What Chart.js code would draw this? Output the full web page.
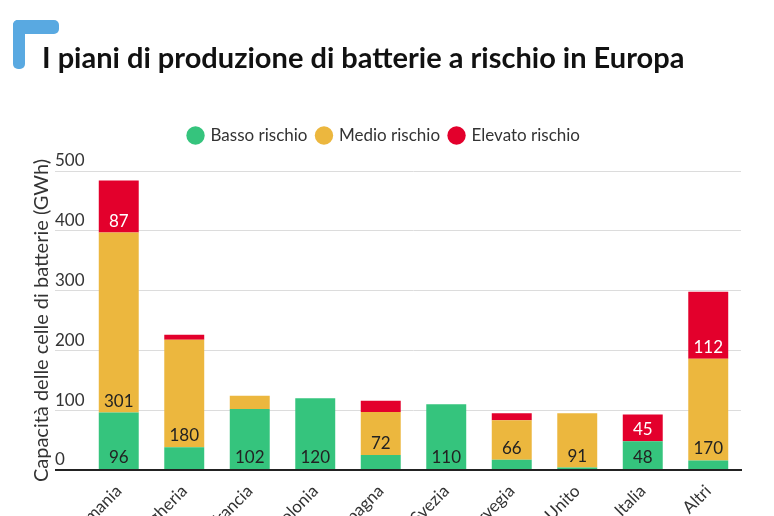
<!DOCTYPE html>
<html>
<head>
<meta charset="utf-8">
<script src="https://cdn.jsdelivr.net/npm/chart.js@4.4.1/dist/chart.umd.min.js"></script>
<style>
  html, body { margin: 0; padding: 0; background: #fff; overflow: hidden; }
  #wrap { width: 774px; height: 600px; position: relative; }
</style>
</head>
<body>
<div id="wrap"><canvas id="batterie"></canvas></div>
<script>
var categories = ["Germania", "Ungheria", "Francia", "Polonia", "Spagna", "Svezia", "Norvegia", "Regno Unito", "Italia", "Altri"];
var bassoRischio = [96, 38, 102, 120, 25, 110, 17, 4, 48, 16];
var medioRischio = [301, 180, 22, 0, 72, 0, 66, 91, 0, 170];
var elevatoRischio = [87, 8, 0, 0, 19, 0, 12, 0, 45, 112];
var seriesNames = ["Basso rischio", "Medio rischio", "Elevato rischio"];
var seriesColors = ["#35c47d", "#ecb73e", "#e3002c"];
var yTicks = [0, 100, 200, 300, 400, 500];

var titleText = "I piani di produzione di batterie a rischio in Europa";
var fontFamily = "Lato, 'Noto Sans', sans-serif";
var textColor = "#333333";

// title + blue corner mark
var headerPlugin = {
  id: "header",
  afterDraw: function(chart) {
    var c = chart.ctx;
    c.save();
    c.fillStyle = "#59a9e1";
    c.beginPath();
    c.roundRect(13, 20, 12, 49, 5);
    c.fill();
    c.beginPath();
    c.roundRect(13, 20, 46, 14, 5);
    c.fill();
    c.fillStyle = "#111111";
    c.font = "bold 29px " + fontFamily;
    c.textBaseline = "alphabetic";
    c.textAlign = "left";
    c.fillText(titleText, 42, 68);
    c.restore();
  }
};

// y tick labels sit above their gridline, left aligned
var yLabelPlugin = {
  id: "yLabels",
  afterDraw: function(chart) {
    var c = chart.ctx;
    var y = chart.scales.y;
    c.save();
    c.fillStyle = textColor;
    c.font = "17px " + fontFamily;
    c.textAlign = "left";
    c.textBaseline = "middle";
    yTicks.forEach(function(v) {
      c.fillText(String(v), 55, y.getPixelForValue(v) - 10);
    });
    c.restore();
  }
};

// value labels at the bottom of each segment
var valuePlugin = {
  id: "values",
  afterDatasetsDraw: function(chart) {
    var c = chart.ctx;
    c.save();
    c.font = "17px " + fontFamily;
    c.textAlign = "center";
    c.textBaseline = "middle";
    chart.data.datasets.forEach(function(ds, i) {
      var meta = chart.getDatasetMeta(i);
      meta.data.forEach(function(bar, j) {
        var v = ds.data[j];
        if (v < 40) return;
        c.fillStyle = i === 2 ? "#ffffff" : "#222222";
        c.fillText(String(v), bar.x, bar.base - 11.5);
      });
    });
    c.restore();
  }
};

var legendSpacer = {
  id: "legendSpacer",
  beforeInit: function(chart) {
    var fit = chart.legend.fit;
    chart.legend.fit = function() {
      fit.bind(chart.legend)();
      this.height += 17;
    };
  }
};

var ctx = document.getElementById("batterie");

var chart = new Chart(ctx, {
  type: "bar",
  data: {
    labels: categories,
    datasets: [
      { label: seriesNames[0], data: bassoRischio, backgroundColor: seriesColors[0] },
      { label: seriesNames[1], data: medioRischio, backgroundColor: seriesColors[1] },
      { label: seriesNames[2], data: elevatoRischio, backgroundColor: seriesColors[2] }
    ]
  },
  options: {
    responsive: true,
    maintainAspectRatio: false,
    animation: false,
    devicePixelRatio: 1,
    layout: { padding: { top: 117, left: 28, right: 33, bottom: 0 } },
    datasets: { bar: { categoryPercentage: 1, barPercentage: 0.61 } },
    plugins: {
      legend: {
        position: "top",
        labels: {
          usePointStyle: true,
          pointStyle: "circle",
          boxWidth: 13,
          boxHeight: 13,
          padding: 10,
          color: textColor,
          font: { family: fontFamily, size: 17 }
        }
      },
      tooltip: { enabled: false },
      title: { display: false }
    },
    scales: {
      x: {
        stacked: true,
        grid: { display: false },
        border: { color: "#222222", width: 2 },
        ticks: {
          minRotation: 45,
          maxRotation: 45,
          color: textColor,
          font: { family: fontFamily, size: 17 }
        },
        afterFit: function(axis) { axis.height = 130; }
      },
      y: {
        stacked: true,
        min: 0,
        max: 500,
        border: { display: false },
        grid: {
          drawTicks: true,
          tickLength: 31,
          color: function(c) { return c.tick && c.tick.value === 0 ? "#222222" : "#dcdcdc"; },
          tickColor: function(c) { return c.tick && c.tick.value === 0 ? "#222222" : "#dcdcdc"; },
          lineWidth: function(c) { return c.tick && c.tick.value === 0 ? 2 : 1; }
        },
        ticks: { display: false, stepSize: 100 },
        title: {
          display: true,
          text: "Capacità delle celle di batterie (GWh)",
          color: textColor,
          font: { family: fontFamily, size: 20 },
          padding: { top: 2, bottom: 1 }
        }
      }
    }
  },
  plugins: [headerPlugin, yLabelPlugin, valuePlugin, legendSpacer]
});
</script>
</body>
</html>
